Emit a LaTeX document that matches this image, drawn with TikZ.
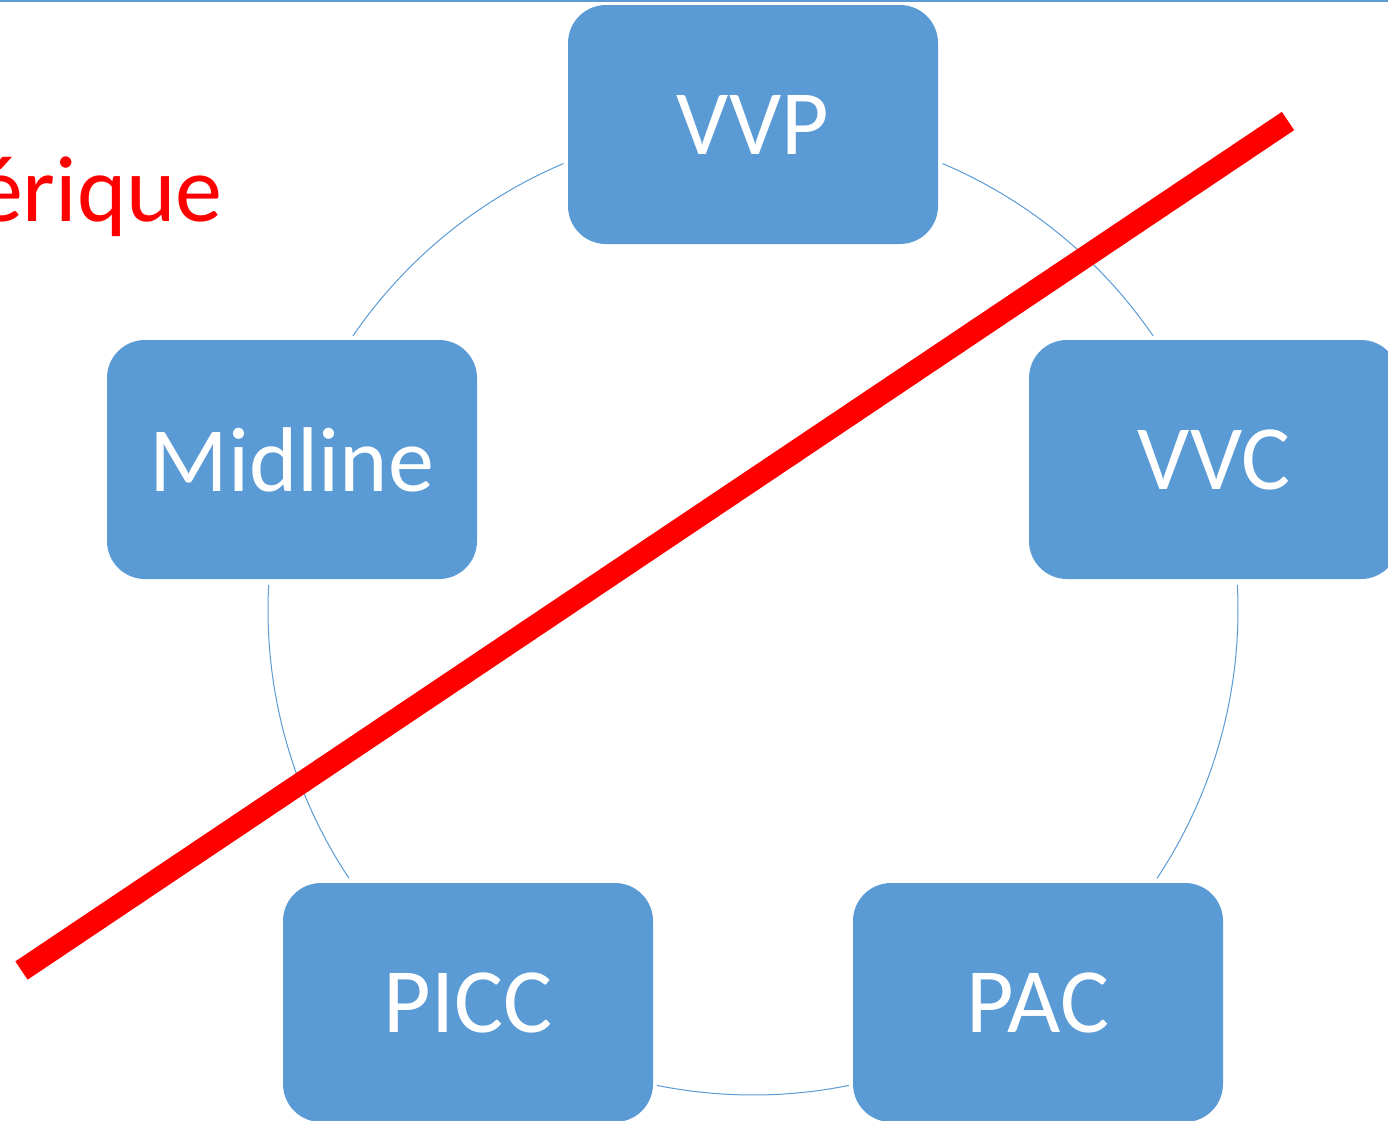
\documentclass[tikz,border=0pt]{standalone}
\usepackage{fontspec}
\setmainfont{Carlito}
\usetikzlibrary{calc}
\definecolor{boxblue}{HTML}{5B9BD5}
\definecolor{strike}{HTML}{FF0000}
\begin{document}
\begin{tikzpicture}[x=1pt,y=-1pt,
  box/.style={fill=boxblue, rounded corners=38pt, minimum width=370pt, minimum height=239pt,
    inner sep=0pt, text=white, font=\fontsize{92}{92}\selectfont, anchor=center},
  cyclearc/.style={draw=boxblue, line width=1pt},
  redtext/.style={text=strike, inner sep=0pt, font=\fontsize{94}{94}\selectfont}]
\useasboundingbox (0,0) rectangle (1388,1120);
\clip (0,0) rectangle (1388,1120);
\fill[white] (0,0) rectangle (1388,1120);
\draw[boxblue, line width=2pt] (0,1) -- (1388,1);
\node[redtext, anchor=base east] (title) at (223,221) {érique};
\coordinate (c) at (753,610);
\node[box] (vvp) at (753,124.5) {VVP};
\node[box] (vvc) at (1214,459.5) {VVC};
\node[box] (pac) at (1038,1002.5) {PAC};
\node[box] (picc) at (468,1002.5) {PICC};
\node[box] (mid) at (292,459.5) {Midline};
\draw[cyclearc] ($(c)+(-67:485)$) arc[start angle=-67, end angle=-34.4, radius=485];
\draw[cyclearc] ($(c)+(-2.95:485)$) arc[start angle=-2.95, end angle=33.6, radius=485];
\draw[cyclearc] ($(c)+(78.6:485)$) arc[start angle=78.6, end angle=101.4, radius=485];
\draw[cyclearc] ($(c)+(146.4:485)$) arc[start angle=146.4, end angle=182.95, radius=485];
\draw[cyclearc] ($(c)+(-145.6:485)$) arc[start angle=-145.6, end angle=-113, radius=485];
\coordinate (s1) at (21.5,970.5);
\coordinate (s2) at (1288,121);
\draw[strike, line width=22pt] (s1) -- (s2);
\end{tikzpicture}
\end{document}
